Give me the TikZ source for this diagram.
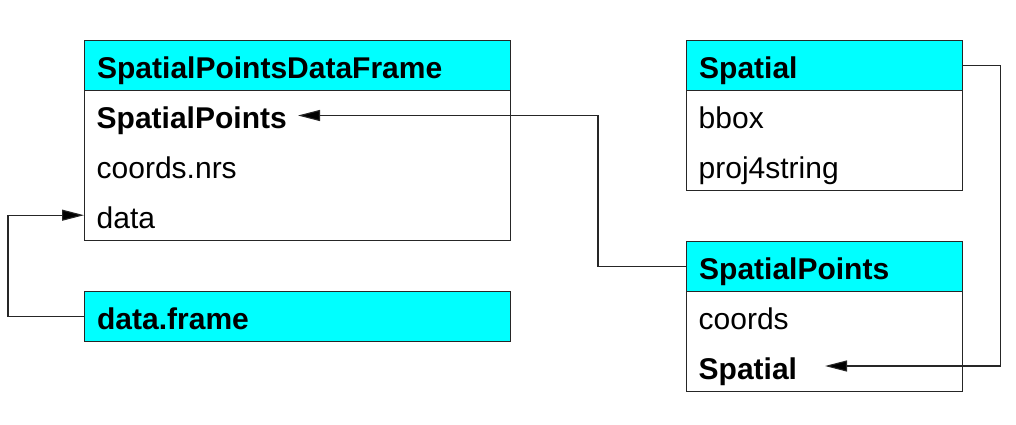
\documentclass[tikz,border=0pt]{standalone}
\usepackage{fontspec}
\setmainfont{Liberation Sans}
\usetikzlibrary{arrows.meta}
\definecolor{aqua}{RGB}{0,255,255}
\begin{document}
\begin{tikzpicture}[x=1pt,y=-1pt,
  cell/.style={anchor=north west, minimum height=50pt, text height=26pt, text depth=0pt,
    inner ysep=0pt, inner xsep=12.5pt, align=left, font=\fontsize{30}{36}\selectfont},
  wide/.style={text width=401pt},
  narrow/.style={text width=251pt},
  hdr/.style={cell, draw=black!85, line width=1.3pt, fill=aqua, font=\fontsize{30}{36}\selectfont\bfseries},
  boxbody/.style={anchor=north west, draw=black!85, line width=1.3pt, inner sep=0pt, minimum height=150pt},
  conn/.style={draw=black!85, line width=1.1pt},
  arr/.style={conn, -{Triangle[length=22pt,width=11pt,fill=black]}}]
\useasboundingbox (0,0) rectangle (1016,425);
% SpatialPointsDataFrame
\node[boxbody, minimum width=426pt] (spdfB) at (84,90) {};
\node[hdr, wide] (spdfH) at (84,40) {SpatialPointsDataFrame};
\node[cell, wide, font=\fontsize{30}{36}\selectfont\bfseries] (spdfR1) at (84,90) {SpatialPoints};
\node[cell, wide] (spdfR2) at (84,140) {coords.nrs};
\node[cell, wide] (spdfR3) at (84,190) {data};
% data.frame
\node[hdr, wide] (dfH) at (84,291) {data.frame};
% Spatial
\node[boxbody, minimum width=276pt, minimum height=100pt] (spB) at (686,90) {};
\node[hdr, narrow] (spH) at (686,40) {Spatial};
\node[cell, narrow] (spR1) at (686,90) {bbox};
\node[cell, narrow] (spR2) at (686,140) {proj4string};
% SpatialPoints
\node[boxbody, minimum width=276pt, minimum height=100pt] (sptB) at (686,291) {};
\node[hdr, narrow] (sptH) at (686,241) {SpatialPoints};
\node[cell, narrow] (sptR1) at (686,291) {coords};
\node[cell, narrow, font=\fontsize{30}{36}\selectfont\bfseries] (sptR2) at (686,341) {Spatial};
% tips
\coordinate (tipSP) at (298,115.5);
\coordinate (tipS) at (825,366);
% connectors
\draw[arr] (dfH.west) -- ++(-76,0) |- (spdfR3.west);
\draw[arr] (sptH.west) -- ++(-88,0) |- (tipSP);
\draw[arr] (spH.east) -- ++(37,0) |- (tipS);
\end{tikzpicture}
\end{document}
